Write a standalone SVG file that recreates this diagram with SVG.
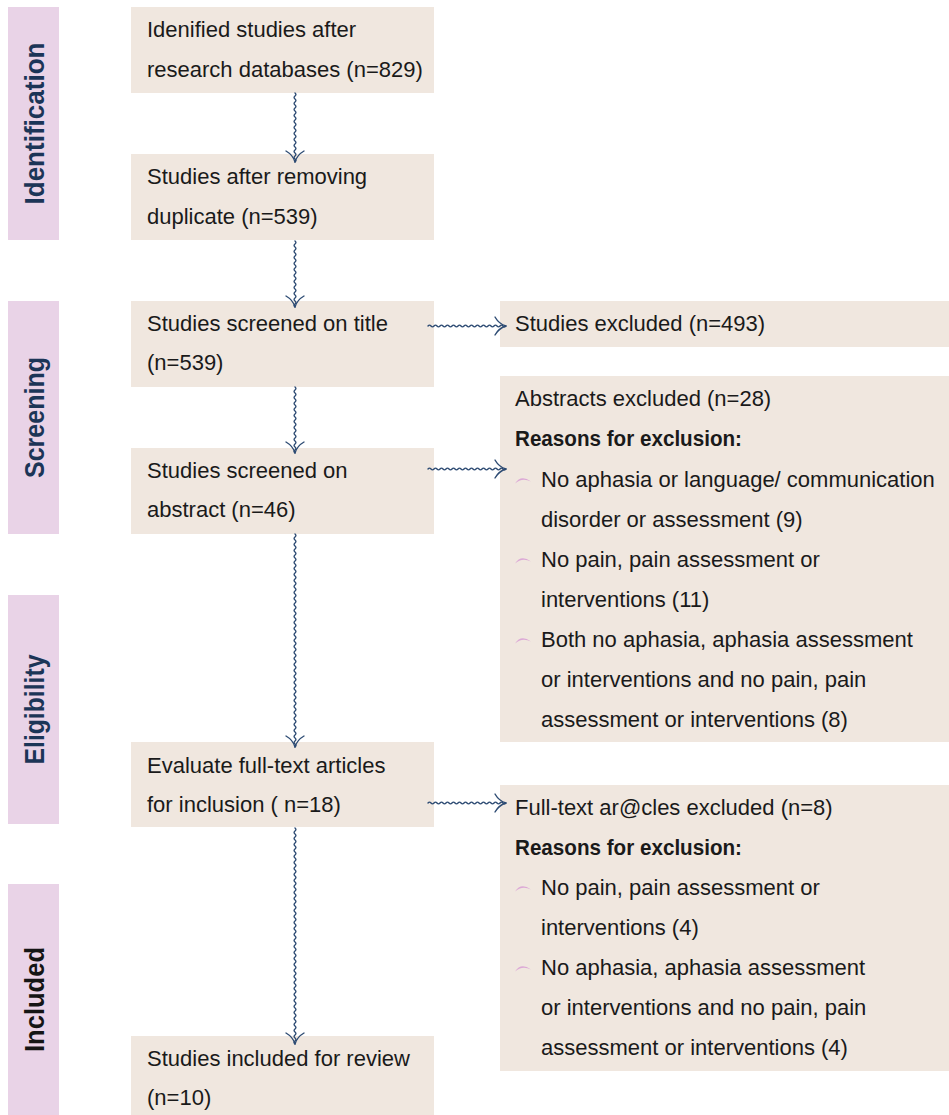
<svg xmlns="http://www.w3.org/2000/svg" xmlns:xlink="http://www.w3.org/1999/xlink" width="949" height="1115" viewBox="0 0 949 1115">
<style>
.box{fill:#F0E7DF}
.side{fill:#E9D3E7}
.t{font-family:"Liberation Sans",Arial,sans-serif;font-size:22px;fill:#1a1a1a}
.b{font-weight:bold}
.lab{font-family:"Liberation Sans",Arial,sans-serif;font-size:28px;font-weight:bold;fill:#1c3557;text-anchor:middle}
.w{fill:none;stroke:#2d4b73;stroke-width:1.4;stroke-linecap:round;stroke-linejoin:round}
.bul{fill:#DCA9D6}
</style>
<defs>
<path id="ah" class="w" d="M-9,-11 Q-2,-7 0,0 Q2,-7 9,-11"/>
<path id="bul" class="bul" d="M0,6.5 Q6,-3 16,4.5 Q7,0 0,6.5 Z"/>
</defs>
<rect width="949" height="1115" fill="#ffffff"/>
<g id="phase-labels">
<rect class="side" x="8" y="7" width="51" height="233"/>
<text class="lab" transform="translate(44,123.5) rotate(-90)" textLength="162" lengthAdjust="spacingAndGlyphs">Identification</text>
<rect class="side" x="8" y="301" width="51" height="233"/>
<text class="lab" transform="translate(44,417.5) rotate(-90)" textLength="121" lengthAdjust="spacingAndGlyphs">Screening</text>
<rect class="side" x="8" y="595" width="51" height="229"/>
<text class="lab" transform="translate(44,709.5) rotate(-90)" textLength="110" lengthAdjust="spacingAndGlyphs">Eligibility</text>
<rect class="side" x="8" y="884" width="51" height="231"/>
<text class="lab" style="fill:#151515" transform="translate(44,999.5) rotate(-90)" textLength="105" lengthAdjust="spacingAndGlyphs">Included</text>
</g>
<g id="n1">
<rect class="box" x="131" y="7" width="303" height="86"/>
<text class="t" x="147" y="37">Idenified studies after</text>
<text class="t" x="147" y="77">research databases (n=829)</text>
</g>
<g id="n2">
<rect class="box" x="131" y="154" width="303" height="86"/>
<text class="t" x="147" y="184">Studies after removing</text>
<text class="t" x="147" y="224">duplicate (n=539)</text>
</g>
<g id="n3">
<rect class="box" x="131" y="301" width="303" height="86"/>
<text class="t" x="147" y="331">Studies screened on title</text>
<text class="t" x="147" y="370">(n=539)</text>
</g>
<g id="n4">
<rect class="box" x="131" y="448" width="303" height="86"/>
<text class="t" x="147" y="478">Studies screened on</text>
<text class="t" x="147" y="517">abstract (n=46)</text>
</g>
<g id="n5">
<rect class="box" x="131" y="742" width="303" height="85"/>
<text class="t" x="147" y="773">Evaluate full-text articles</text>
<text class="t" x="147" y="812">for inclusion ( n=18)</text>
</g>
<g id="n6">
<rect class="box" x="131" y="1036" width="303" height="79"/>
<text class="t" x="147" y="1066">Studies included for review</text>
<text class="t" x="147" y="1105">(n=10)</text>
</g>
<g id="x1">
<rect class="box" x="500" y="301" width="449" height="46"/>
<text class="t" x="515" y="331">Studies excluded (n=493)</text>
</g>
<g id="x2">
<rect class="box" x="500" y="376" width="449" height="366"/>
<text class="t" x="515" y="406">Abstracts excluded (n=28)</text>
<text class="t b" x="515" y="446" textLength="227" lengthAdjust="spacingAndGlyphs">Reasons for exclusion:</text>
<use xlink:href="#bul" href="#bul" x="515" y="477"/>
<text class="t" x="541" y="487">No aphasia or language/ communication</text>
<text class="t" x="541" y="527">disorder or assessment (9)</text>
<use xlink:href="#bul" href="#bul" x="515" y="557"/>
<text class="t" x="541" y="567">No pain, pain assessment or</text>
<text class="t" x="541" y="607">interventions (11)</text>
<use xlink:href="#bul" href="#bul" x="515" y="637"/>
<text class="t" x="541" y="647">Both no aphasia, aphasia assessment</text>
<text class="t" x="541" y="687">or interventions and no pain, pain</text>
<text class="t" x="541" y="727">assessment or interventions (8)</text>
</g>
<g id="x3">
<rect class="box" x="500" y="785" width="449" height="286"/>
<text class="t" x="515" y="815">Full-text ar@cles excluded (n=8)</text>
<text class="t b" x="515" y="855" textLength="227" lengthAdjust="spacingAndGlyphs">Reasons for exclusion:</text>
<use xlink:href="#bul" href="#bul" x="515" y="885"/>
<text class="t" x="541" y="895">No pain, pain assessment or</text>
<text class="t" x="541" y="935">interventions (4)</text>
<use xlink:href="#bul" href="#bul" x="515" y="965"/>
<text class="t" x="541" y="975">No aphasia, aphasia assessment</text>
<text class="t" x="541" y="1015">or interventions and no pain, pain</text>
<text class="t" x="541" y="1055">assessment or interventions (4)</text>
</g>
<g id="connectors">
<path class="w" d="M295,93 q1.8,1.5 0,3 t0,3 0,3 0,3 0,3 0,3 0,3 0,3 0,3 0,3 0,3 0,3 0,3 0,3 0,3 0,3 0,3 0,3 0,3 0,3 0,3 0,3 0,3"/>
<use xlink:href="#ah" href="#ah" x="295" y="162"/>
<path class="w" d="M295,241 q1.8,1.5 0,3 t0,3 0,3 0,3 0,3 0,3 0,3 0,3 0,3 0,3 0,3 0,3 0,3 0,3 0,3 0,3 0,3 0,3 0,3 0,3 0,3 0,3"/>
<use xlink:href="#ah" href="#ah" x="295" y="307"/>
<path class="w" d="M295,387 q1.8,1.5 0,3 t0,3 0,3 0,3 0,3 0,3 0,3 0,3 0,3 0,3 0,3 0,3 0,3 0,3 0,3 0,3 0,3 0,3 0,3 0,3 0,3 0,3"/>
<use xlink:href="#ah" href="#ah" x="295" y="453"/>
<path class="w" d="M295,534 q1.8,1.5 0,3 t0,3 0,3 0,3 0,3 0,3 0,3 0,3 0,3 0,3 0,3 0,3 0,3 0,3 0,3 0,3 0,3 0,3 0,3 0,3 0,3 0,3 0,3 0,3 0,3 0,3 0,3 0,3 0,3 0,3 0,3 0,3 0,3 0,3 0,3 0,3 0,3 0,3 0,3 0,3 0,3 0,3 0,3 0,3 0,3 0,3 0,3 0,3 0,3 0,3 0,3 0,3 0,3 0,3 0,3 0,3 0,3 0,3 0,3 0,3 0,3 0,3 0,3 0,3 0,3 0,3 0,3 0,3 0,3 0,3 0,3"/>
<use xlink:href="#ah" href="#ah" x="295" y="747"/>
<path class="w" d="M295,828 q1.8,1.5 0,3 t0,3 0,3 0,3 0,3 0,3 0,3 0,3 0,3 0,3 0,3 0,3 0,3 0,3 0,3 0,3 0,3 0,3 0,3 0,3 0,3 0,3 0,3 0,3 0,3 0,3 0,3 0,3 0,3 0,3 0,3 0,3 0,3 0,3 0,3 0,3 0,3 0,3 0,3 0,3 0,3 0,3 0,3 0,3 0,3 0,3 0,3 0,3 0,3 0,3 0,3 0,3 0,3 0,3 0,3 0,3 0,3 0,3 0,3 0,3 0,3 0,3 0,3 0,3 0,3 0,3 0,3 0,3 0,3 0,3 0,3 0,3"/>
<use xlink:href="#ah" href="#ah" x="295" y="1044"/>
<path class="w" d="M428,326 q1.5,-1.8 3,0 t3,0 3,0 3,0 3,0 3,0 3,0 3,0 3,0 3,0 3,0 3,0 3,0 3,0 3,0 3,0 3,0 3,0 3,0 3,0 3,0 3,0 3,0 3,0 3,0 3,0"/>
<use xlink:href="#ah" href="#ah" transform="translate(506,326) rotate(-90)"/>
<path class="w" d="M428,469 q1.5,-1.8 3,0 t3,0 3,0 3,0 3,0 3,0 3,0 3,0 3,0 3,0 3,0 3,0 3,0 3,0 3,0 3,0 3,0 3,0 3,0 3,0 3,0 3,0 3,0 3,0 3,0 3,0"/>
<use xlink:href="#ah" href="#ah" transform="translate(506,469) rotate(-90)"/>
<path class="w" d="M428,803 q1.5,-1.8 3,0 t3,0 3,0 3,0 3,0 3,0 3,0 3,0 3,0 3,0 3,0 3,0 3,0 3,0 3,0 3,0 3,0 3,0 3,0 3,0 3,0 3,0 3,0 3,0 3,0 3,0"/>
<use xlink:href="#ah" href="#ah" transform="translate(506,803) rotate(-90)"/>
</g>
</svg>
